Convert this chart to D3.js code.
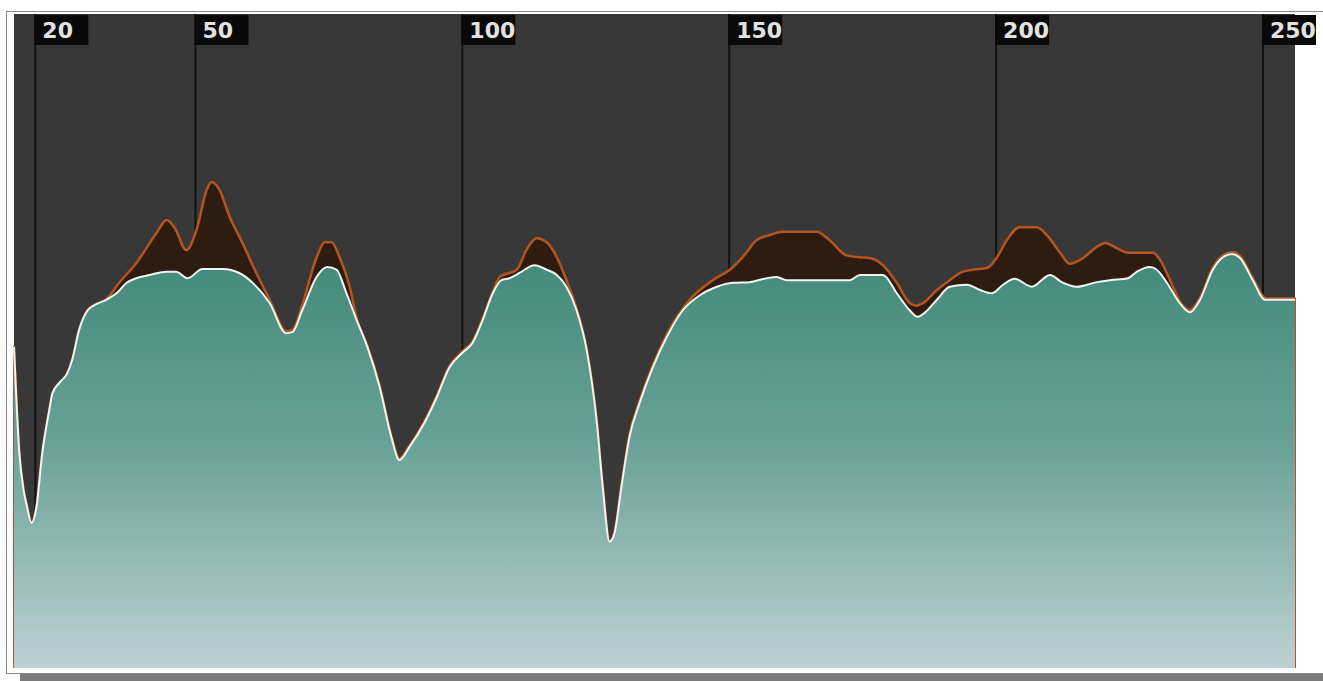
<!DOCTYPE html>
<html>
  <head>
    <meta charset="utf-8">
    <title>Histogram</title>
    <script src="https://d3js.org/d3.v7.min.js"></script>
    <style>
      body { margin: 0; background: #fff; }
      #chart { display: block; }
      .tickLabel { font-family: "DejaVu Sans", sans-serif; font-weight: bold; font-size: 22px; fill: #e2e2e2; }
    </style>
  </head>
  <body>
    <svg id="chart" width="1323" height="681">
      <defs>
        <clipPath id="plotClip"><rect></rect></clipPath>
        <linearGradient id="tealFade" gradientUnits="userSpaceOnUse" x1="0" x2="0">
          <stop offset="0" stop-color="#428a7a"></stop>
          <stop offset="0.45" stop-color="#68a196"></stop>
          <stop offset="1" stop-color="#bdd0d3"></stop>
        </linearGradient>
      </defs>
      <g id="frameGroup"></g>
      <g id="gridGroup"></g>
      <g id="chartGroup" clip-path="url(#plotClip)"></g>
      <g id="labelGroup"></g>
    </svg>
    <script>
      // tick labels along the top
      var tickValues = [20, 50, 100, 150, 200, 250];
      // lower (teal) series: [bin, level]
      var luma = [
        [16, 49.1], [17, 32.9], [17.8, 27.2], [18.3, 25.2], [19.3, 22.2], [20.2, 24.6],
        [21.3, 32.9], [22.6, 39.4], [23.2, 42.0], [24.5, 43.6], [26, 45.1], [26.9, 47.1],
        [28.2, 51.7], [29.8, 54.7], [31.1, 55.5], [33.3, 56.3], [35.2, 57.3], [37.1, 58.9],
        [38.9, 59.6], [41.4, 60.1], [44.6, 60.6], [46.4, 60.6], [48.5, 59.6], [51.3, 61.0],
        [55.1, 61.0], [58.2, 60.4], [60.7, 58.9], [63.9, 55.8], [67, 51.2], [68.2, 51.4],
        [70, 54.7], [72.7, 59.8], [74.7, 61.3], [76.4, 60.9], [78.3, 57.3], [80.2, 53.2],
        [82.2, 49.1], [84.5, 43.0], [86.7, 35.3], [88.2, 31.8], [90.1, 33.8], [92.9, 37.5],
        [95.2, 41.4], [97.6, 46.0], [100, 48.2], [101.9, 49.7], [103.8, 53.2], [105.7, 57.3],
        [107.3, 59.3], [108.8, 59.6], [110.7, 60.4], [113.5, 61.6], [115.8, 60.9], [117.7, 60.1],
        [119.5, 58.3], [121.4, 54.7], [123.3, 48.6], [125.2, 37.5], [126.3, 27.7], [127.6, 19.3],
        [128.5, 20.6], [129.8, 27.7], [131.3, 35.3], [133.2, 40.5], [135.7, 46.0], [138.3, 50.6],
        [141.3, 54.7], [144.5, 57.0], [147.7, 58.3], [150.7, 58.9], [153.8, 59.0], [157, 59.6],
        [158.9, 59.8], [160.8, 59.3], [172.6, 59.3], [174.5, 60.1], [178.8, 60.1], [181.4, 57.3],
        [183.8, 54.7], [185.3, 53.7], [186.6, 54.3], [188.9, 56.3], [191.3, 58.3], [194.5, 58.6],
        [197, 57.8], [199.2, 57.3], [201.3, 58.6], [203.5, 59.5], [206.7, 58.3], [210.1, 60.1],
        [212.3, 59.0], [215.1, 58.3], [218.9, 59.0], [221.3, 59.3], [224.7, 59.6], [226.4, 60.6],
        [228.8, 61.3], [230.1, 60.9], [232, 58.9], [234.4, 55.8], [236.3, 54.4], [238.2, 56.3],
        [240.6, 60.9], [242.5, 62.8], [244.2, 63.3], [245.7, 62.7], [248.1, 59.3], [250.4, 56.3],
        [251.3, 56.3], [256, 56.3]
      ];
      // upper (brown) series: [bin, level]
      var total = [
        [16, 49.1], [17, 32.9], [17.8, 27.2], [18.3, 25.2], [19.3, 22.2], [20.2, 24.6],
        [21.3, 32.9], [22.6, 39.4], [23.2, 42.0], [24.5, 43.6], [26, 45.1], [26.9, 47.1],
        [28.2, 51.7], [29.8, 54.7], [31.1, 55.5], [33.3, 56.4], [35.7, 58.9], [38.9, 61.9],
        [42.7, 66.5], [44.6, 68.5], [46.1, 67.3], [48.3, 63.9], [50.2, 67.0], [52.1, 73.1],
        [53, 74.3], [54.5, 73.1], [56.4, 69.0], [58.8, 65.0], [61.4, 60.4], [63.9, 56.3],
        [67, 51.5], [68.2, 51.7], [70, 55.5], [72.7, 62.8], [74.2, 65.1], [75.5, 65.1],
        [77, 62.8], [78.9, 58.3], [80.2, 53.5], [82.2, 49.3], [84.5, 43.2], [86.7, 35.5],
        [88.2, 32.0], [90.1, 34.0], [92.9, 37.7], [95.2, 41.6], [97.6, 46.2], [100, 48.4],
        [101.9, 49.9], [103.8, 53.4], [105.7, 57.5], [107, 59.8], [110.2, 60.9], [112, 63.9],
        [113.9, 65.7], [115.8, 65.1], [117.7, 62.8], [119.5, 59.3], [121.4, 55.0], [123.3, 48.8],
        [125.2, 37.7], [126.3, 27.9], [127.6, 19.5], [128.5, 20.8], [129.8, 27.9], [131.3, 35.6],
        [133.2, 40.8], [135.7, 46.3], [138.3, 51.0], [142.6, 56.3], [146.9, 59.3], [150.1, 60.9],
        [152.5, 62.8], [155.1, 65.4], [157.6, 66.2], [160, 66.7], [166.4, 66.7], [168.8, 65.4],
        [172, 63.1], [174.5, 62.8], [176.3, 62.7], [178.8, 61.6], [181.4, 58.9], [183.8, 55.8],
        [185.1, 55.4], [186.3, 55.8], [188.9, 57.8], [191.3, 59.3], [193.8, 60.6], [195.6, 60.9],
        [198.4, 61.2], [200.1, 62.7], [202, 65.4], [204.4, 67.4], [207.6, 67.4], [209.5, 66.2],
        [212, 63.5], [213.8, 61.8], [216.3, 62.7], [218.9, 64.4], [220.4, 65.0], [222.6, 64.2],
        [224.7, 63.5], [229.4, 63.5], [230.7, 62.4], [232.6, 59.3], [234.4, 56.1], [236.3, 54.7],
        [238.2, 56.6], [240.6, 61.2], [242.5, 63.1], [244.2, 63.6], [245.7, 63.0], [248.1, 59.6],
        [250.4, 56.6], [251.3, 56.5], [256, 56.5]
      ];

      var plot = { left: 14, right: 1295, top: 14, bottom: 668 };
      var svg = d3.select("#chart");

      var x = d3.scaleLinear().domain([16, 256]).range([plot.left, plot.right]);
      var y = d3.scaleLinear().domain([0, 100]).range([plot.bottom, plot.top]);

      // clip a touch wider so the brown outline shows on both side edges
      d3.select("#plotClip rect")
        .attr("x", plot.left - 1).attr("y", plot.top)
        .attr("width", plot.right - plot.left + 2).attr("height", plot.bottom - plot.top);
      d3.select("#tealFade").attr("y1", y(63)).attr("y2", plot.bottom);

      // frame with drop shadow
      var frame = d3.select("#frameGroup");
      frame.append("rect")
        .attr("x", 20).attr("y", 674).attr("width", 1303).attr("height", 7)
        .attr("fill", "#7b7b7b");
      frame.append("rect")
        .attr("x", 6.5).attr("y", 11.5).attr("width", 1330).attr("height", 662)
        .attr("fill", "#fff").attr("stroke", "#8a8a8a");
      frame.append("rect")
        .attr("x", plot.left).attr("y", plot.top)
        .attr("width", plot.right - plot.left).attr("height", plot.bottom - plot.top)
        .attr("fill", "#383838");

      // vertical grid lines
      d3.select("#gridGroup").selectAll("line")
        .data(tickValues)
        .enter().append("line")
          .attr("x1", function(d) { return x(d); })
          .attr("x2", function(d) { return x(d); })
          .attr("y1", plot.top).attr("y2", plot.bottom)
          .attr("stroke", "#121212").attr("stroke-width", 2);

      // areas
      var area = d3.area()
        .x(function(d) { return x(d[0]); })
        .y0(y(0))
        .y1(function(d) { return y(d[1]); })
        .curve(d3.curveMonotoneX);
      var line = d3.line()
        .x(function(d) { return x(d[0]); })
        .y(function(d) { return y(d[1]); })
        .curve(d3.curveMonotoneX);

      var chartGroup = d3.select("#chartGroup");
      chartGroup.append("path")
        .datum(total)
        .attr("d", area)
        .attr("fill", "#2f1c11")
        .attr("stroke", "#b4561d")
        .attr("stroke-width", 2.5)
        .attr("stroke-linejoin", "round");
      chartGroup.append("path")
        .datum(luma)
        .attr("d", area)
        .attr("fill", "url(#tealFade)");
      chartGroup.append("path")
        .datum(luma)
        .attr("d", line)
        .attr("fill", "none")
        .attr("stroke", "#f3f3f3")
        .attr("stroke-width", 2);

      // tick label boxes
      var labels = d3.select("#labelGroup").selectAll("g")
        .data(tickValues)
        .enter().append("g")
          .attr("transform", function(d) { return "translate(" + (x(d) - 1) + "," + 15 + ")"; });
      labels.append("rect")
        .attr("width", 54).attr("height", 30)
        .attr("fill", "#0a0a0a");
      labels.append("text")
        .attr("class", "tickLabel")
        .attr("x", 8).attr("y", 23)
        .text(function(d) { return d; });
    </script>
  </body>
</html>
